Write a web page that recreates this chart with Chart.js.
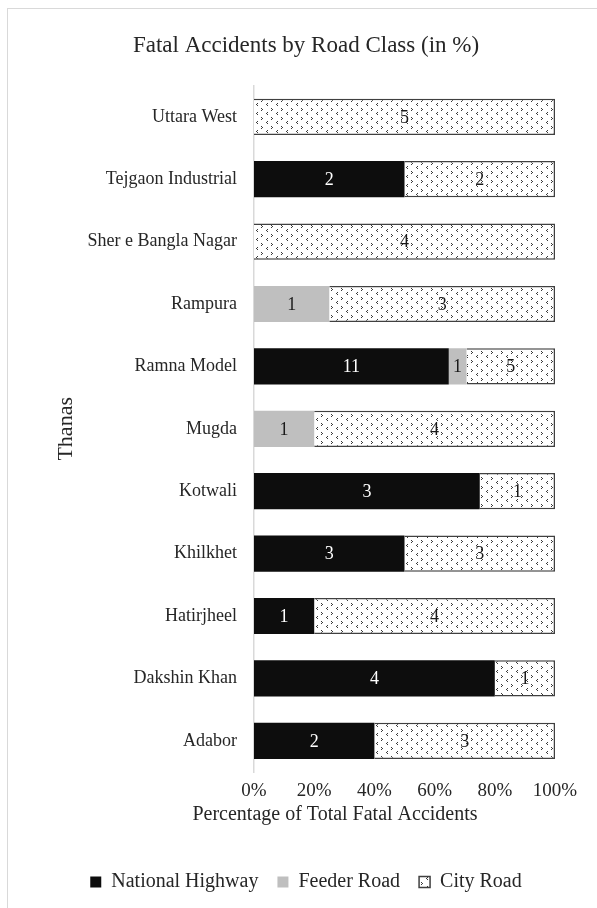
<!DOCTYPE html>
<html>
<head>
<meta charset="utf-8">
<script src="https://cdn.jsdelivr.net/npm/chart.js@4"></script>
<style>
  html, body { margin:0; padding:0; background:#fff; }
  #frame { position:absolute; left:7px; top:8px; width:600px; height:910px;
           border-top:1.5px solid #d9d9d9; border-left:1.5px solid #d9d9d9; }
  #wrap { position:absolute; left:0; top:0; width:597px; height:908px; }
</style>
</head>
<body>
<div id="frame"></div>
<div id="wrap"><canvas id="chart" width="597" height="908"></canvas></div>
<script>
const thanas = ["Uttara West","Tejgaon Industrial","Sher e Bangla Nagar","Rampura","Ramna Model",
                "Mugda","Kotwali","Khilkhet","Hatirjheel","Dakshin Khan","Adabor"];
const nationalHighway = [0, 2, 0, 0, 11, 0, 3, 3, 1, 4, 2];
const feederRoad      = [0, 0, 0, 1, 1, 1, 0, 0, 0, 0, 0];
const cityRoad        = [5, 2, 4, 3, 5, 4, 1, 3, 4, 1, 3];
const xTicks = [0, 20, 40, 60, 80, 100];

const SERIF = "'Liberation Serif', 'DejaVu Serif', serif";
const INK = "#262626";

// small arrowhead fill used for the city road bars
function makePattern(){
  const c = document.createElement("canvas");
  c.width = 10; c.height = 9;
  const g = c.getContext("2d");
  g.fillStyle = "#fff"; g.fillRect(0,0,10,9);
  g.fillStyle = "#3a3a3a";
  // ">" mark
  g.fillRect(1,0,1,1); g.fillRect(2,1,1,1); g.fillRect(1,2,1,1);
  // "<" mark, offset half a tile
  g.fillRect(7,4,1,1); g.fillRect(6,5,1,1); g.fillRect(7,6,1,1);
  return document.getElementById("chart").getContext("2d").createPattern(c, "repeat");
}

const totals = thanas.map((_, i) => nationalHighway[i] + feederRoad[i] + cityRoad[i]);
const pct = arr => arr.map((v, i) => v / totals[i] * 100);
const counts = [nationalHighway, feederRoad, cityRoad];

// count in the middle of each segment + x axis title (offset left like the original layout)
const countLabels = {
  id: "countLabels",
  afterDatasetsDraw(chart){
    const ctx = chart.ctx;
    ctx.save();
    ctx.font = "18px " + SERIF;
    ctx.textAlign = "center";
    ctx.textBaseline = "middle";
    chart.data.datasets.forEach((ds, di) => {
      const meta = chart.getDatasetMeta(di);
      meta.data.forEach((bar, i) => {
        const n = counts[di][i];
        if(!n) return;
        const p = bar.getProps(["x","y","base"], true);
        ctx.fillStyle = di === 0 ? "#fff" : "#1a1a1a";
        ctx.fillText(String(n), (p.x + p.base) / 2, p.y + 1);
      });
    });
    ctx.restore();
  },
  afterDraw(chart){
    const ctx = chart.ctx;
    const x = chart.scales.x;
    ctx.save();
    ctx.font = "20px " + SERIF;
    ctx.fillStyle = INK;
    ctx.textAlign = "center";
    ctx.textBaseline = "middle";
    ctx.fillText("Percentage of Total Fatal Accidents", 335, x.top + 43);
    ctx.restore();
  }
};

const pattern = makePattern();

new Chart(document.getElementById("chart"), {
  type: "bar",
  data: {
    labels: thanas,
    datasets: [
      { label:"National Highway", data: pct(nationalHighway), backgroundColor:"#0d0d0d",
        borderColor:"#0d0d0d", borderWidth:0 },
      { label:"Feeder Road", data: pct(feederRoad), backgroundColor:"#bfbfbf",
        borderColor:"#bfbfbf", borderWidth:0 },
      { label:"City Road", data: pct(cityRoad), backgroundColor: pattern,
        borderColor:"#404040", borderWidth:1.5 }
    ]
  },
  options: {
    indexAxis: "y",
    responsive: false,
    animation: false,
    datasets: { bar: { barPercentage: 0.58, categoryPercentage: 1 } },
    layout: { padding: { left: 57, right: 42, top: 8, bottom: 6 } },
    scales: {
      x: {
        stacked: true, min: 0, max: 100,
        afterBuildTicks(s){ s.ticks = xTicks.map(v => ({ value: v })); },
        afterFit(s){ s.height = 81; },
        grid: { display:false },
        border: { display:false },
        ticks: { callback: v => v + "%", color:INK, font:{ family:SERIF, size:19 }, padding: 0, maxRotation:0 }
      },
      y: {
        stacked: true,
        afterFit(s){ s.width = 197; },
        grid: { display:false },
        border: { display:true, color:"#d9d9d9", width:1.5 },
        ticks: { color:INK, font:{ family:SERIF, size:18 }, padding: 9 },
        title: { display:true, text:"Thanas", color:INK, font:{ family:SERIF, size:22, lineHeight:0.8 }, padding:{ top:0, bottom:0 } }
      }
    },
    plugins: {
      tooltip: { enabled:false },
      title: { display:true, text:"Fatal Accidents by Road Class (in %)", color:INK,
               font:{ family:SERIF, size:23, weight:"normal" }, padding:{ top:24, bottom:26 } },
      legend: {
        position:"bottom",
        labels: { color:INK, font:{ family:SERIF, size:20 }, boxWidth:11, boxHeight:11, padding:19 }
      }
    }
  },
  plugins: [countLabels]
});
</script>
</body>
</html>
